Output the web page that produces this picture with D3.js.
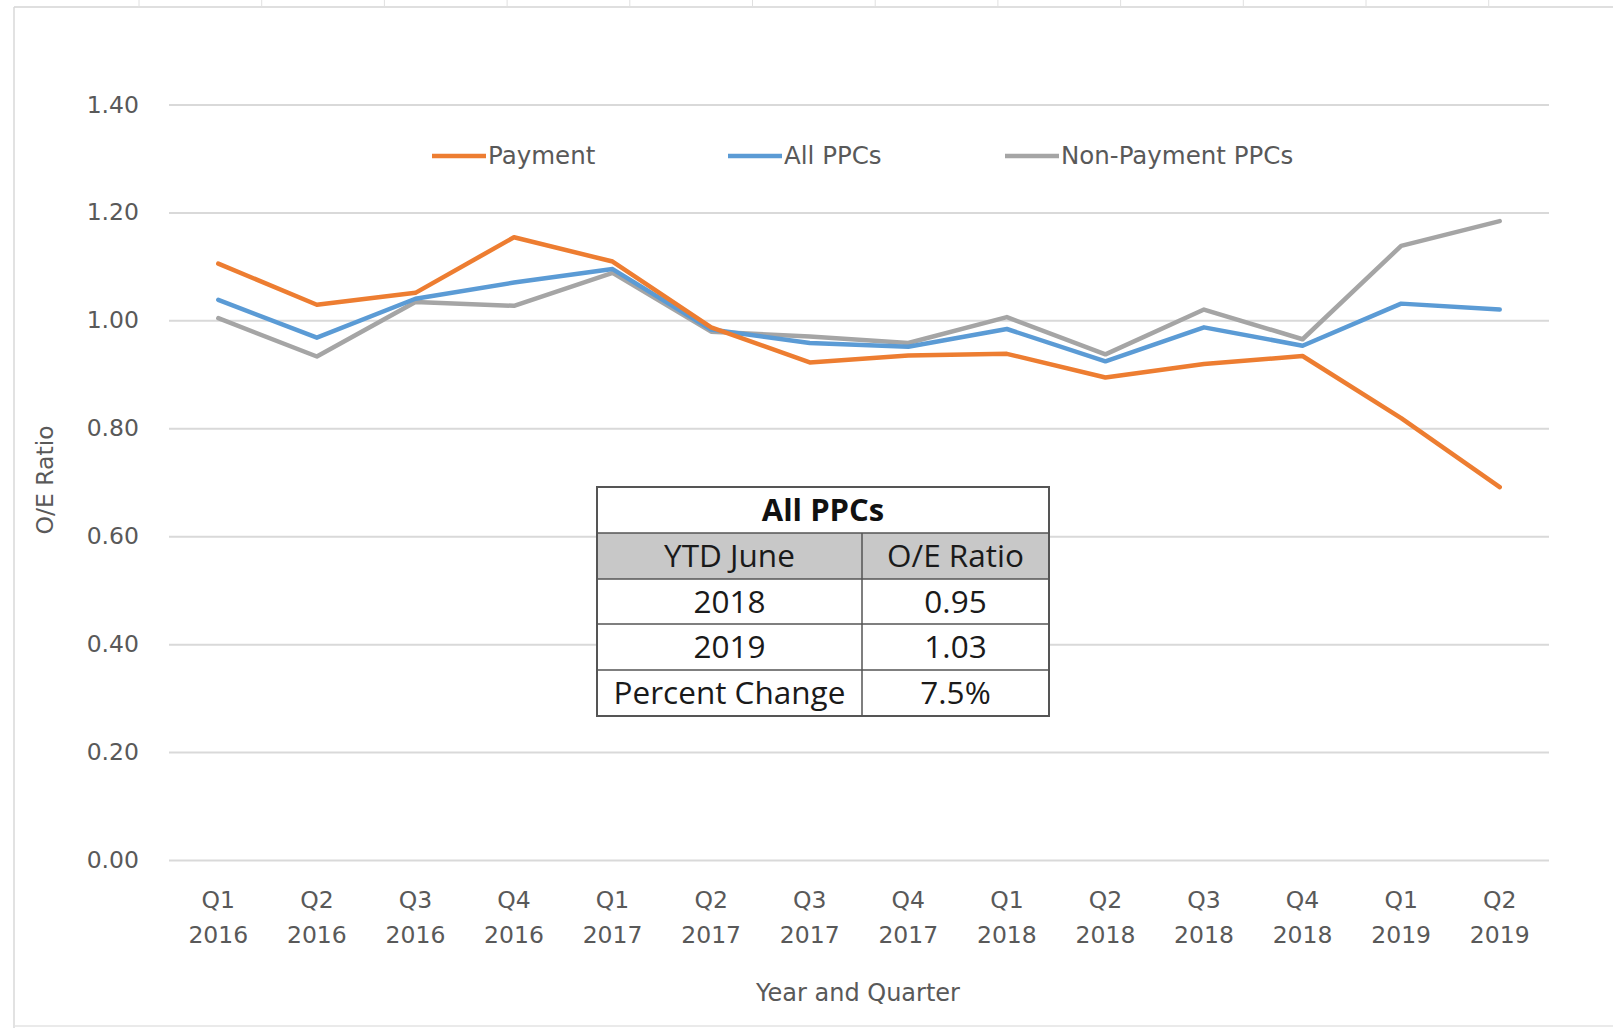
<!DOCTYPE html>
<html>
<head>
<meta charset="utf-8">
<script src="https://cdn.jsdelivr.net/npm/d3@7"></script>
<style>
  html, body { margin: 0; padding: 0; background: #fff; }
  svg { display: block; }
</style>
</head>
<body>
<svg id="chart" width="1613" height="1028"></svg>
<script>
// ---- data ----
const quarters = ["Q1","Q2","Q3","Q4","Q1","Q2","Q3","Q4","Q1","Q2","Q3","Q4","Q1","Q2"];
const years    = ["2016","2016","2016","2016","2017","2017","2017","2017","2018","2018","2018","2018","2019","2019"];
const payment    = [1.105, 1.029, 1.051, 1.154, 1.109, 0.987, 0.922, 0.935, 0.938, 0.894, 0.919, 0.934, 0.819, 0.691];
const allPPCs    = [1.038, 0.968, 1.040, 1.070, 1.095, 0.983, 0.958, 0.951, 0.984, 0.924, 0.987, 0.953, 1.031, 1.020];
const nonPayment = [1.004, 0.933, 1.034, 1.027, 1.088, 0.979, 0.970, 0.958, 1.006, 0.937, 1.020, 0.965, 1.138, 1.184];
const seriesNames = ["Payment", "All PPCs", "Non-Payment PPCs"];
const seriesColors = ["#ED7D31", "#5B9BD5", "#A5A5A5"];
const yTicks = [0, 0.2, 0.4, 0.6, 0.8, 1.0, 1.2, 1.4];
const tableTitle = "All PPCs";
const tableHeader = ["YTD June", "O/E Ratio"];
const tableRows = [["2018", "0.95"], ["2019", "1.03"], ["Percent Change", "7.5%"]];

// ---- layout ----
const svg = d3.select("#chart");
const W = 1613, H = 1028;
const plot = {left: 169, right: 1549, top: 104.5, bottom: 860};
const font = "'DejaVu Sans', sans-serif";
const tableFont = "'Open Sans', 'Noto Sans', sans-serif";
const textGray = "#595959";

// sheet-like frame
const frame = svg.append("g");
frame.append("line").attr("x1", 14).attr("x2", W).attr("y1", 7).attr("y2", 7)
  .attr("stroke", "#D4D4D4").attr("stroke-width", 1.5);
frame.append("line").attr("x1", 14).attr("x2", 14).attr("y1", 7).attr("y2", H)
  .attr("stroke", "#D9D9D9").attr("stroke-width", 1.5);
frame.append("line").attr("x1", 14).attr("x2", W).attr("y1", H - 2).attr("y2", H - 2)
  .attr("stroke", "#E3E3E3").attr("stroke-width", 1.5);
d3.range(12).forEach(i => {
  const x = 139 + i * 122.7;
  frame.append("line").attr("x1", x).attr("x2", x).attr("y1", 0).attr("y2", 7)
    .attr("stroke", "#E0E0E0").attr("stroke-width", 1);
});

const x = d3.scaleBand().domain(d3.range(quarters.length)).range([plot.left, plot.right]).paddingInner(0).paddingOuter(0);
const y = d3.scaleLinear().domain([0, 1.4]).range([plot.bottom, plot.top]);
const cx = i => x(i) + x.bandwidth() / 2;

// gridlines + y labels via axis
const yAxis = d3.axisLeft(y).tickValues(yTicks).tickFormat(d3.format(".2f"))
  .tickSize(-(plot.right - plot.left)).tickPadding(30);
const gy = svg.append("g").attr("transform", `translate(${plot.left},0)`).call(yAxis);
gy.select(".domain").remove();
gy.selectAll(".tick line").attr("stroke", "#D9D9D9").attr("stroke-width", 2);
gy.selectAll(".tick text").attr("fill", textGray).attr("font-family", font).attr("font-size", 23.5);

// x axis labels
const xAxis = d3.axisBottom(x).tickSize(0).tickFormat(() => "");
const gx = svg.append("g").attr("transform", `translate(0,${plot.bottom})`).call(xAxis);
gx.select(".domain").remove();
gx.selectAll(".tick").each(function(d) {
  const t = d3.select(this);
  t.append("text").attr("y", 48).attr("text-anchor", "middle").attr("fill", textGray)
    .attr("font-family", font).attr("font-size", 23.5).text(quarters[d]);
  t.append("text").attr("y", 83).attr("text-anchor", "middle").attr("fill", textGray)
    .attr("font-family", font).attr("font-size", 23.5).text(years[d]);
});

// axis titles
svg.append("text").attr("x", (plot.left + plot.right) / 2 - 1).attr("y", 1001)
  .attr("text-anchor", "middle").attr("fill", textGray).attr("font-family", font)
  .attr("font-size", 24).text("Year and Quarter");
svg.append("text").attr("transform", "translate(53,480) rotate(-90)")
  .attr("text-anchor", "middle").attr("fill", textGray).attr("font-family", font)
  .attr("font-size", 23.5).text("O/E Ratio");

// lines
const seriesData = [payment, allPPCs, nonPayment];
const line = d3.line().x((d, i) => cx(i)).y(d => y(d));
[2, 1, 0].forEach(k => {
  svg.append("path").datum(seriesData[k]).attr("d", line)
    .attr("fill", "none").attr("stroke", seriesColors[k]).attr("stroke-width", 4.5)
    .attr("stroke-linejoin", "round").attr("stroke-linecap", "round");
});

// legend
const legendPos = [432, 728, 1005];
const lg = svg.append("g");
seriesNames.forEach((name, k) => {
  const g = lg.append("g").attr("transform", `translate(${legendPos[k]},156)`);
  g.append("line").attr("x1", 0).attr("x2", 54).attr("y1", 0).attr("y2", 0)
    .attr("stroke", seriesColors[k]).attr("stroke-width", 4.5);
  g.append("text").attr("x", 56).attr("y", 8).attr("fill", textGray)
    .attr("font-family", font).attr("font-size", 24.5).text(name);
});

// table
const tb = {x0: 597, x1: 1049, xm: 862, rows: [487, 533, 579, 624, 670, 716]};
const tg = svg.append("g");
tg.append("rect").attr("x", tb.x0).attr("y", tb.rows[0]).attr("width", tb.x1 - tb.x0)
  .attr("height", tb.rows[5] - tb.rows[0]).attr("fill", "#fff");
tg.append("rect").attr("x", tb.x0).attr("y", tb.rows[1]).attr("width", tb.x1 - tb.x0)
  .attr("height", tb.rows[2] - tb.rows[1]).attr("fill", "#C8C8C8");
const tfs = 31.5;
tg.append("text").attr("x", (tb.x0 + tb.x1) / 2).attr("y", (tb.rows[0] + tb.rows[1]) / 2 + 11)
  .attr("text-anchor", "middle").attr("font-family", tableFont).attr("font-weight", 700)
  .attr("font-size", 31).attr("fill", "#111").text(tableTitle);
const colCenters = [(tb.x0 + tb.xm) / 2, (tb.xm + tb.x1) / 2];
const allRows = [tableHeader].concat(tableRows);
allRows.forEach((r, i) => {
  const yc = (tb.rows[i + 1] + tb.rows[i + 2]) / 2 + 11;
  r.forEach((c, j) => {
    tg.append("text").attr("x", colCenters[j]).attr("y", yc).attr("text-anchor", "middle")
      .attr("font-family", tableFont).attr("font-size", tfs).attr("fill", "#1a1a1a").text(c);
  });
});
// borders
tg.append("rect").attr("x", tb.x0).attr("y", tb.rows[0]).attr("width", tb.x1 - tb.x0)
  .attr("height", tb.rows[5] - tb.rows[0]).attr("fill", "none").attr("stroke", "#555").attr("stroke-width", 2);
tb.rows.slice(1, 5).forEach(ry => {
  tg.append("line").attr("x1", tb.x0).attr("x2", tb.x1).attr("y1", ry).attr("y2", ry)
    .attr("stroke", "#555").attr("stroke-width", 1.5);
});
tg.append("line").attr("x1", tb.xm).attr("x2", tb.xm).attr("y1", tb.rows[1]).attr("y2", tb.rows[5])
  .attr("stroke", "#555").attr("stroke-width", 1.5);
</script>
</body>
</html>
